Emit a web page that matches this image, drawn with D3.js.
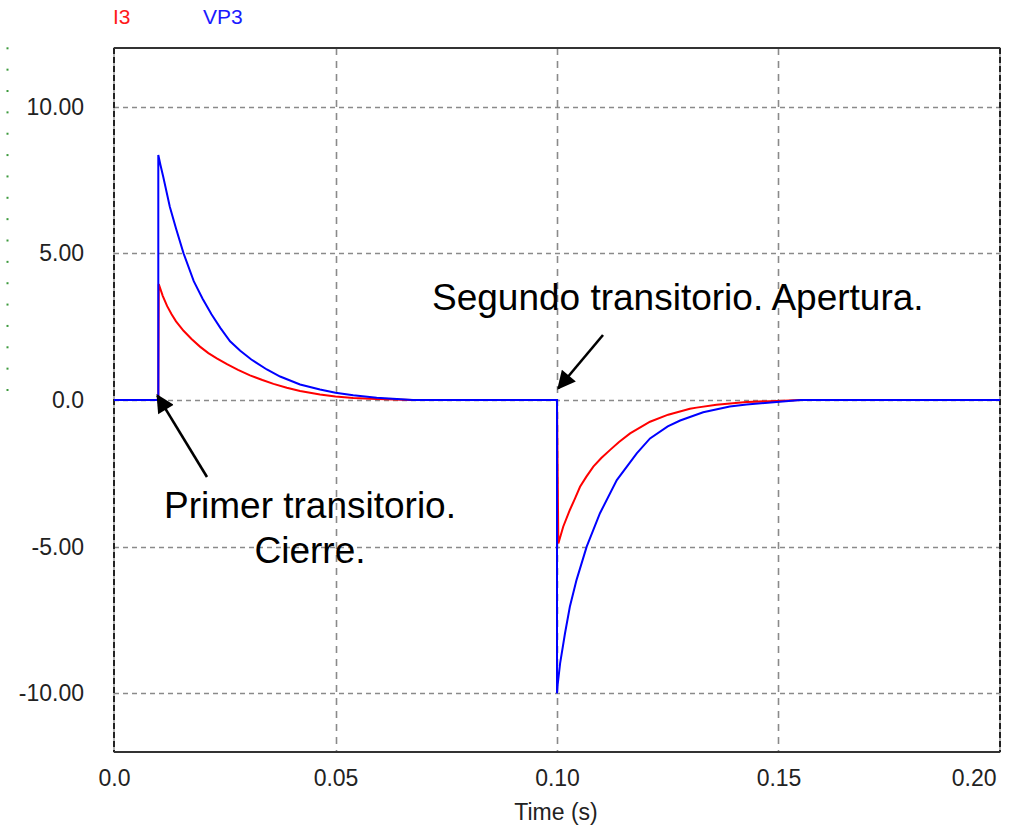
<!DOCTYPE html>
<html>
<head>
<meta charset="utf-8">
<script src="https://cdn.jsdelivr.net/npm/d3@7"></script>
<style>
  body { margin: 0; background: #fff; }
  svg { display: block; font-family: "Liberation Sans", Arial, sans-serif; }
</style>
</head>
<body>
<div id="chart"></div>
<script>
// series: time (s) and value
var i3Time = [0, 0.0100, 0.0101, 0.0110, 0.0120, 0.0130, 0.0140, 0.0157, 0.0175, 0.0194, 0.0213,
  0.0232, 0.0255, 0.0280, 0.0307, 0.0335, 0.0360, 0.0390, 0.0420, 0.0465, 0.0500, 0.0540,
  0.0593, 0.0672,
  0.1000, 0.1003, 0.1014, 0.1029, 0.1040, 0.1052, 0.1066, 0.1082, 0.1100, 0.1120, 0.1140,
  0.1165, 0.1210, 0.1251, 0.1300, 0.1315, 0.1360, 0.1428, 0.1496, 0.1550, 0.2000];
var i3Value = [0, 0, 3.95, 3.55, 3.20, 2.92, 2.68, 2.36, 2.08, 1.82, 1.60,
  1.42, 1.22, 1.03, 0.84, 0.68, 0.55, 0.42, 0.31, 0.19, 0.12, 0.07,
  0.03, 0,
  0, -4.89, -4.32, -3.75, -3.38, -2.96, -2.62, -2.27, -1.98, -1.70, -1.43,
  -1.14, -0.74, -0.50, -0.30, -0.26, -0.16, -0.07, -0.03, 0, 0];

var vp3Time = [0, 0.0100, 0.0100, 0.0105, 0.0111, 0.0126, 0.0140, 0.0157, 0.0180, 0.0200, 0.0220,
  0.0240, 0.0262, 0.0285, 0.0310, 0.0345, 0.0375, 0.0420, 0.0465, 0.0500, 0.0540, 0.0593,
  0.0675,
  0.1000, 0.1000, 0.1001, 0.1007, 0.1018, 0.1029, 0.1044, 0.1067, 0.1097, 0.1135, 0.1180,
  0.1210, 0.1250, 0.1278, 0.1330, 0.1390, 0.1428, 0.1496, 0.1550, 0.2000];
var vp3Value = [0, 0, 8.35, 8.00, 7.62, 6.59, 5.85, 5.00, 4.05, 3.45, 2.92,
  2.46, 2.00, 1.68, 1.38, 1.04, 0.80, 0.53, 0.36, 0.25, 0.16, 0.08,
  0,
  0, -10.0, -9.77, -8.98, -7.96, -7.05, -6.14, -5.00, -3.86, -2.73, -1.82,
  -1.31, -0.90, -0.70, -0.42, -0.22, -0.15, -0.07, 0, 0];

var xTicks = [0, 0.05, 0.10, 0.15, 0.20];
var xTickLabels = ["0.0", "0.05", "0.10", "0.15", "0.20"];
var yTicks = [10, 5, 0, -5, -10];
var yTickLabels = ["10.00", "5.00", "0.0", "-5.00", "-10.00"];
var seriesNames = ["I3", "VP3"];

var width = 1010,
    height = 826,
    margin = {top: 48, right: 10, bottom: 74, left: 114},
    plotW = width - margin.left - margin.right,
    plotH = height - margin.top - margin.bottom;

var x = d3.scaleLinear().domain([0, 0.2]).range([0, plotW]);
var y = d3.scaleLinear().domain([-12, 12]).range([plotH, 0]);

var svg = d3.select('#chart')
  .append('svg')
    .attr('width', width)
    .attr('height', height);

// little green dots at the far left
var dotY = d3.scaleLinear().domain([0, 16]).range([48.3, 390]);
svg.append('g').selectAll('rect')
  .data(d3.range(17))
  .enter().append('rect')
    .attr('x', 6.5)
    .attr('y', function (d) { return dotY(d) - 1; })
    .attr('width', 2)
    .attr('height', 2)
    .attr('fill', '#3c9a3c');

// legend names
svg.append('text')
  .attr('x', 113).attr('y', 24)
  .attr('fill', '#ff1a1a')
  .style('font-size', '21px')
  .text(seriesNames[0]);
svg.append('text')
  .attr('x', 203).attr('y', 24)
  .attr('fill', '#1a1aff')
  .style('font-size', '21px')
  .text(seriesNames[1]);

var g = svg.append('g')
  .attr('transform', 'translate(' + margin.left + ',' + margin.top + ')');

// grid
g.append('g').selectAll('line')
  .data(yTicks)
  .enter().append('line')
    .attr('x1', 0).attr('x2', plotW)
    .attr('y1', function (d) { return Math.round(y(d)) + 0.5; })
    .attr('y2', function (d) { return Math.round(y(d)) + 0.5; })
    .attr('stroke', '#8a8a8a')
    .attr('stroke-width', 1.6)
    .attr('stroke-dasharray', '5,4');

g.append('g').selectAll('line')
  .data(xTicks.slice(1, 4))
  .enter().append('line')
    .attr('x1', function (d) { return Math.round(x(d)) + 0.5; })
    .attr('x2', function (d) { return Math.round(x(d)) + 0.5; })
    .attr('y1', 0).attr('y2', plotH)
    .attr('stroke', '#8a8a8a')
    .attr('stroke-width', 1.6)
    .attr('stroke-dasharray', '7,6');

// frame
g.append('rect')
  .attr('x', 0).attr('y', 0)
  .attr('width', plotW).attr('height', plotH)
  .attr('fill', 'none')
  .attr('stroke', '#9a9a9a')
  .attr('stroke-width', 1.5);
[0, plotW].forEach(function (px) {
  g.append('line')
    .attr('x1', px).attr('x2', px)
    .attr('y1', 0).attr('y2', plotH)
    .attr('stroke', '#222')
    .attr('stroke-width', 2)
    .attr('stroke-dasharray', '6,3');
});
[0, plotH].forEach(function (py) {
  g.append('line')
    .attr('x1', 0).attr('x2', plotW)
    .attr('y1', py).attr('y2', py)
    .attr('stroke', '#333')
    .attr('stroke-width', 2);
});

// axes
var yAxis = d3.axisLeft(y)
  .tickValues(yTicks)
  .tickSize(0)
  .tickPadding(30)
  .tickFormat(function (d, i) { return yTickLabels[i]; });
var yg = g.append('g').call(yAxis);
yg.select('.domain').remove();
yg.selectAll('text')
  .attr('fill', '#222')
  .style('font-size', '23px')
  .style('font-family', '"Liberation Sans", Arial, sans-serif');

var xAxis = d3.axisBottom(x)
  .tickValues(xTicks)
  .tickSize(0)
  .tickPadding(18)
  .tickFormat(function (d, i) { return xTickLabels[i]; });
var xg = g.append('g')
  .attr('transform', 'translate(0,' + plotH + ')')
  .call(xAxis);
xg.select('.domain').remove();
xg.selectAll('text')
  .attr('fill', '#222')
  .style('font-size', '23px')
  .style('font-family', '"Liberation Sans", Arial, sans-serif');
xg.selectAll('.tick').filter(function (d) { return d === 0.2; })
  .select('text')
  .attr('text-anchor', 'end')
  .attr('dx', -4);

svg.append('text')
  .attr('x', 556).attr('y', 820)
  .attr('text-anchor', 'middle')
  .attr('fill', '#222')
  .style('font-size', '23px')
  .text('Time (s)');

// curves
var line = d3.line()
  .x(function (d) { return x(d[0]); })
  .y(function (d) { return y(d[1]); });

var plot = g.append('g');
plot.append('path')
  .datum(d3.zip(i3Time, i3Value))
  .attr('d', line)
  .attr('fill', 'none')
  .attr('stroke', '#ff0000')
  .attr('stroke-width', 2);
plot.append('path')
  .datum(d3.zip(vp3Time, vp3Value))
  .attr('d', line)
  .attr('fill', 'none')
  .attr('stroke', '#0000ff')
  .attr('stroke-width', 2);

// annotations
var defs = svg.append('defs');
defs.append('marker')
    .attr('id', 'head')
    .attr('viewBox', '0 0 10 10')
    .attr('refX', 9).attr('refY', 5)
    .attr('markerWidth', 8).attr('markerHeight', 7)
    .attr('markerUnits', 'strokeWidth')
    .attr('orient', 'auto')
  .append('path')
    .attr('d', 'M0,0 L10,5 L0,10 z')
    .attr('fill', '#000');

var notes = svg.append('g')
  .attr('fill', '#000')
  .style('font-size', '37px');

notes.append('line')
  .attr('x1', 207).attr('y1', 477)
  .attr('x2', x(0.0098) + margin.left).attr('y2', y(0.15) + margin.top)
  .attr('stroke', '#000').attr('stroke-width', 2.6)
  .attr('marker-end', 'url(#head)');
notes.append('line')
  .attr('x1', 603).attr('y1', 335)
  .attr('x2', x(0.1003) + margin.left).attr('y2', y(0.4) + margin.top)
  .attr('stroke', '#000').attr('stroke-width', 2.6)
  .attr('marker-end', 'url(#head)');

notes.append('text')
  .attr('x', 432).attr('y', 310)
  .text('Segundo transitorio. Apertura.');
notes.append('text')
  .attr('x', 310).attr('y', 518)
  .attr('text-anchor', 'middle')
  .text('Primer transitorio.');
notes.append('text')
  .attr('x', 310).attr('y', 563)
  .attr('text-anchor', 'middle')
  .text('Cierre.');
</script>
</body>
</html>
